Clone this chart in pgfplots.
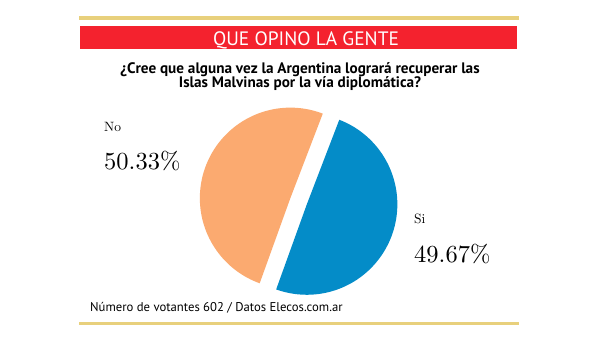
\documentclass[border=0pt]{standalone}
\usepackage{pgfplots}
\pgfplotsset{compat=1.18}
\usepackage{fontspec}
\newfontfamily\sans{PT Sans}
\newfontfamily\lmten{lmroman10-regular.otf}
\definecolor{gold}{RGB}{232,208,124}
\definecolor{banner}{RGB}{244,34,46}
\definecolor{siblue}{RGB}{4,140,200}
\definecolor{noorange}{RGB}{251,170,112}
\begin{document}
\begin{tikzpicture}
% data (percent)
\def\vsi{49.67}
\def\vno{50.33}
\pgfmathsetmacro\split{69}
\pgfmathsetmacro\sistart{\split-3.6*\vsi}
\pgfmathsetmacro\noend{\split+3.6*\vno}
\pgfmathsetmacro\simid{(\sistart+\split)/2}
\pgfmathsetmacro\nomid{(\split+\noend)/2}
\pgfmathsetmacro\sicx{298.6+8.8*cos(\simid)}
\pgfmathsetmacro\sicy{136.8+8.8*sin(\simid)}
\pgfmathsetmacro\nocx{298.6+8.8*cos(\nomid)}
\pgfmathsetmacro\nocy{136.8+8.8*sin(\nomid)}
\begin{axis}[width=600pt,height=338pt,scale only axis,
  xmin=0,xmax=600,ymin=0,ymax=338,hide axis,clip=false]
\fill[white] (axis cs:0,0) rectangle (axis cs:600,338);
\fill[gold] (axis cs:79,318) rectangle (axis cs:519,322);
\fill[banner] (axis cs:80,288.5) rectangle (axis cs:517,312);
\fill[gold] (axis cs:79,13) rectangle (axis cs:519,16.3);
\node[anchor=base,text=white,inner sep=0pt] at (axis cs:306,292) {\sans\fontsize{19.4}{21}\selectfont QUE OPINO LA GENTE};
\node[anchor=base,inner sep=0pt] at (axis cs:300,264.7) {\sans\bfseries\fontsize{15.2}{17}\selectfont ¿Cree que alguna vez la Argentina logrará recuperar las};
\node[anchor=base,inner sep=0pt] at (axis cs:300,250.3) {\sans\bfseries\fontsize{15.2}{17}\selectfont Islas Malvinas por la vía diplomática?};
\node[anchor=base west,inner sep=0pt] at (axis cs:90,27) {\sans\fontsize{12.7}{14}\selectfont Número de votantes 602 / Datos Elecos.com.ar};
% pie slices
\addplot[draw=none,fill=siblue,domain=\sistart:\split,samples=120,variable=\t]
  ({\sicx+90.5*cos(\t)},{\sicy+90.5*sin(\t)}) -- (axis cs:\sicx,\sicy) -- cycle;
\addplot[draw=none,fill=noorange,domain=\split:\noend,samples=120,variable=\t]
  ({\nocx+90.5*cos(\t)},{\nocy+90.5*sin(\t)}) -- (axis cs:\nocx,\nocy) -- cycle;
% labels
\node[anchor=base west,inner sep=0pt] at (axis cs:104,207) {\lmten\fontsize{13.5}{16}\selectfont No};
\node[anchor=base west,inner sep=0pt] at (axis cs:104,168) {\lmten\fontsize{24.5}{28}\selectfont 50.33\%};
\node[anchor=base west,inner sep=0pt] at (axis cs:414,115) {\lmten\fontsize{13.5}{16}\selectfont Si};
\node[anchor=base west,inner sep=0pt] at (axis cs:414,76) {\lmten\fontsize{24.5}{28}\selectfont 49.67\%};
\end{axis}
\end{tikzpicture}
\end{document}
